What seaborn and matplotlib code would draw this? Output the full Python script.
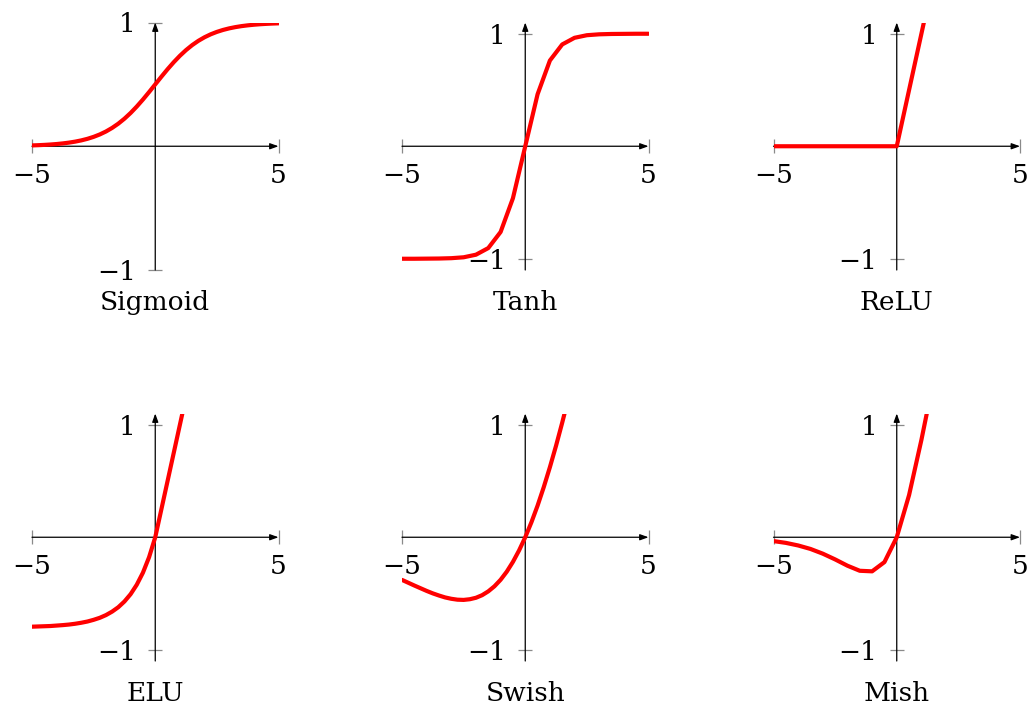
import matplotlib
matplotlib.use("Agg")
import matplotlib.pyplot as plt
import pandas as pd
import seaborn as sns

# Two sample grids: a coarse one (step 0.5) and a finer one (step 0.25)
x_coarse = [-5.0, -4.5, -4.0, -3.5, -3.0, -2.5, -2.0, -1.5, -1.0, -0.5, 0.0,
            0.5, 1.0, 1.5, 2.0, 2.5, 3.0, 3.5, 4.0, 4.5, 5.0]
x_fine = [-5.0, -4.75, -4.5, -4.25, -4.0, -3.75, -3.5, -3.25, -3.0, -2.75, -2.5,
          -2.25, -2.0, -1.75, -1.5, -1.25, -1.0, -0.75, -0.5, -0.25, 0.0,
          0.25, 0.5, 0.75, 1.0, 1.25, 1.5, 1.75, 2.0, 2.25, 2.5,
          2.75, 3.0, 3.25, 3.5, 3.75, 4.0, 4.25, 4.5, 4.75, 5.0]

sigmoid_y = [0.0067, 0.0086, 0.0110, 0.0141, 0.0180, 0.0230, 0.0293, 0.0373, 0.0474, 0.0601, 0.0759,
             0.0954, 0.1192, 0.1481, 0.1824, 0.2227, 0.2689, 0.3208, 0.3775, 0.4378, 0.5000,
             0.5622, 0.6225, 0.6792, 0.7311, 0.7773, 0.8176, 0.8520, 0.8808, 0.9047, 0.9241,
             0.9399, 0.9526, 0.9627, 0.9707, 0.9770, 0.9820, 0.9859, 0.9890, 0.9914, 0.9933]
tanh_y = [-1.000, -1.000, -0.999, -0.998, -0.995, -0.987, -0.964, -0.905, -0.762, -0.462, 0.000,
          0.462, 0.762, 0.905, 0.964, 0.987, 0.995, 0.998, 0.999, 1.000, 1.000]
relu_y = [0.0, 0.0, 0.0, 0.0, 0.0, 0.0, 0.0, 0.0, 0.0, 0.0, 0.0,
          0.5, 1.0, 1.5, 2.0, 2.5, 3.0, 3.5, 4.0, 4.5, 5.0]
elu_y = [-0.795, -0.793, -0.791, -0.789, -0.785, -0.781, -0.776, -0.769, -0.760, -0.749, -0.734,
         -0.716, -0.692, -0.661, -0.622, -0.571, -0.506, -0.422, -0.315, -0.177, 0.000,
         0.25, 0.5, 0.75, 1.0, 1.25, 1.5, 1.75, 2.0, 2.25, 2.5,
         2.75, 3.0, 3.25, 3.5, 3.75, 4.0, 4.25, 4.5, 4.75, 5.0]
swish_y = [-0.379, -0.404, -0.429, -0.453, -0.477, -0.499, -0.518, -0.535, -0.547, -0.555, -0.557,
           -0.551, -0.538, -0.515, -0.481, -0.436, -0.378, -0.306, -0.219, -0.117, 0.000,
           0.133, 0.281, 0.445, 0.623, 0.814, 1.019, 1.235, 1.462, 1.699, 1.943,
           2.195, 2.453, 2.715, 2.982, 3.251, 3.523, 3.797, 4.071, 4.346, 4.621]
mish_y = [-0.034, -0.050, -0.073, -0.104, -0.146, -0.197, -0.253, -0.298, -0.303, -0.221, 0.000,
          0.375, 0.865, 1.403, 1.944, 2.472, 2.987, 3.494, 3.997, 4.499, 5.000]

panel_names = ["Sigmoid", "Tanh", "ReLU", "ELU", "Swish", "Mish"]
panel_x = [x_fine, x_coarse, x_coarse, x_fine, x_fine, x_coarse]
panel_values = [sigmoid_y, tanh_y, relu_y, elu_y, swish_y, mish_y]
panel_ylims = [(-1.0, 1.0), (-1.1, 1.1), (-1.1, 1.1), (-1.1, 1.1), (-1.1, 1.1), (-1.1, 1.1)]

x_ticks = [-5, 5]
x_ticklabels = ["\u22125", "5"]
y_ticks = [-1, 1]
y_ticklabels = ["\u22121", "1"]

sns.set_style("white")
plt.rcParams["font.family"] = ["DejaVu Serif"]

W, H = 1034, 709
fig = plt.figure(figsize=(W / 100, H / 100), dpi=100)

col_left = [32.0, 402.0, 773.5]
row_top = [22.5, 413.5]
ax_w, ax_h = 246.5, 247.5

FS = 19

for i, (name, xs, ys, ylim) in enumerate(zip(panel_names, panel_x, panel_values, panel_ylims)):
    r, c = divmod(i, 3)
    left = col_left[c] / W
    bottom = (H - row_top[r] - ax_h) / H
    ax = fig.add_axes([left, bottom, ax_w / W, ax_h / H])
    ax.patch.set_alpha(0)

    df = pd.DataFrame({"x": xs, "y": ys})
    sns.lineplot(data=df, x="x", y="y", ax=ax, color="#ff0000", linewidth=3.0,
                 estimator=None, sort=False, zorder=5)

    ax.set_xlim(-5, 5)
    ax.set_ylim(*ylim)
    ax.set_xlabel("")
    ax.set_ylabel("")

    for s in ["top", "right"]:
        ax.spines[s].set_visible(False)
    ax.spines["left"].set_position(("data", 0))
    ax.spines["bottom"].set_position(("data", 0))
    ax.spines["left"].set_color("none")
    ax.spines["bottom"].set_color("none")

    arrow = dict(arrowstyle="-|>,head_length=0.5,head_width=0.18", lw=0.9,
                 color="black", shrinkA=0, shrinkB=0, mutation_scale=10)
    ax.annotate("", xy=(5, 0), xytext=(-5, 0), arrowprops=arrow,
                annotation_clip=False, zorder=3)
    ax.annotate("", xy=(0, ylim[1]), xytext=(0, ylim[0]), arrowprops=arrow,
                annotation_clip=False, zorder=3)

    ax.set_xticks(x_ticks)
    ax.set_xticklabels(x_ticklabels)
    ax.set_yticks(y_ticks)
    ax.set_yticklabels(y_ticklabels)
    ax.xaxis.set_ticks_position("bottom")
    ax.yaxis.set_ticks_position("left")
    ax.tick_params(axis="both", direction="inout", length=10, width=0.9,
                   color="#8a8a8a", labelsize=FS, labelcolor="black")
    ax.tick_params(axis="x", pad=7)
    ax.tick_params(axis="y", pad=9)

    ax.text(0.5, -0.162, name, transform=ax.transAxes, ha="center",
            va="baseline", fontsize=FS, color="black")

fig.savefig("out.png", dpi=100)
